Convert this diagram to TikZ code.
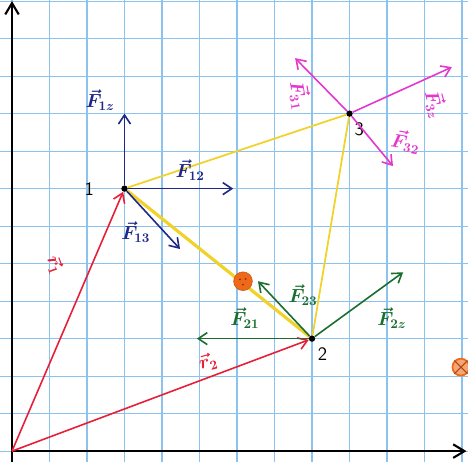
\documentclass[tikz,border=0pt]{standalone}
\usetikzlibrary{arrows.meta,calc}

\definecolor{gridblue}{RGB}{140,195,238}
\definecolor{rvec}{RGB}{232,30,55}
\definecolor{fblue}{RGB}{30,40,135}
\definecolor{fgreen}{RGB}{25,110,45}
\definecolor{fpink}{RGB}{228,55,205}
\definecolor{tri}{RGB}{240,210,40}
\definecolor{blob}{RGB}{240,105,25}

\begin{document}
\begin{tikzpicture}[
    vec/.style={line width=1.2pt, -{Straight Barb[length=2.4mm,width=3.2mm]}},
    axis/.style={line width=1.6pt, -{Straight Barb[length=3mm,width=3.6mm]}},
    charge/.style={circle, fill, inner sep=1.7pt},
    flab/.style={font=\Large\boldmath, inner sep=1pt},
    num/.style={font=\Large\sffamily},
    spot/.style={circle, fill=blob, draw=blob!80!black, minimum size=5mm, inner sep=0pt},
  ]
  \useasboundingbox (-0.32,-0.293) rectangle (12.16,12.03);
  \fill[white] (-0.32,-0.293) rectangle (12.16,12.03);

  % squared paper
  \draw[gridblue, line width=0.8pt] (-0.32,-0.293) grid (12.16,12.03);

  % axes
  \coordinate (O) at (0,0);
  \coordinate (ybot) at (0,-0.3);
  \coordinate (ytip) at (0,12.0);
  \coordinate (xtip) at (12.12,0);
  \draw[axis] (ybot) -- (ytip);
  \draw[axis] (O) -- (xtip);

  % the three charges
  \node[charge, label={[num, label distance=6mm]180:1}] (P1) at (3,7) {};
  \node[charge, label={[num, label distance=1pt]-75:2}] (P2) at (8,3) {};
  \node[charge, label={[num, label distance=1pt]-85:3}] (P3) at (9,9) {};

  % triangle
  \draw[tri, line width=1.3pt] (P1) -- (P3) -- (P2);
  \draw[tri, line width=2.4pt] (P1) -- (P2);

  % spots
  \node[spot] (S1) at (6.16,4.53) {};
  \node[spot, minimum size=4.5mm, fill=blob!60, line width=1.3pt, draw=blob] (S2) at (11.97,2.24) {};
  \draw[blob!70!black, line width=0.8pt] (S2.north west) -- (S2.south east) (S2.north east) -- (S2.south west);
  \fill[blob!50!black] ($(S1)+(-0.08,0.05)$) circle (0.8pt) ($(S1)+(0.07,0.06)$) circle (0.8pt) ($(S1)+(0,-0.09)$) circle (0.8pt);

  % position vectors
  \draw[vec, rvec] (O) -- (P1);
  \draw[vec, rvec] (O) -- (P2);
  \node[flab, rvec, rotate=-70] (r1) at (1.15,4.96) {$\vec{r}_1$};
  \node[flab, rvec, rotate=15] (r2) at (5.23,2.37) {$\vec{r}_2$};

  % forces on 1
  \coordinate (F1z) at (3,9);
  \coordinate (F12) at (5.9,7);
  \coordinate (F13) at (4.48,5.39);
  \foreach \e in {F1z,F12,F13}
    \draw[vec, fblue] (P1) -- (\e);
  \node[flab, fblue] (l1z) at (2.35,9.36) {$\vec{F}_{1z}$};
  \node[flab, fblue] (l12) at (4.75,7.49) {$\vec{F}_{12}$};
  \node[flab, fblue] (l13) at (3.3,5.84) {$\vec{F}_{13}$};

  % forces on 2
  \coordinate (F21) at (4.93,3);
  \coordinate (F23) at (6.56,4.53);
  \coordinate (F2z) at (10.43,4.77);
  \foreach \e in {F21,F23,F2z}
    \draw[vec, fgreen] (P2) -- (\e);
  \node[flab, fgreen] (l21) at (6.21,3.55) {$\vec{F}_{21}$};
  \node[flab, fgreen] (l23) at (7.76,4.16) {$\vec{F}_{23}$};
  \node[flab, fgreen] (l2z) at (10.13,3.55) {$\vec{F}_{2z}$};

  % forces on 3
  \coordinate (F31) at (7.55,10.48);
  \coordinate (F3z) at (11.73,10.24);
  \coordinate (F32) at (10.16,7.6);
  \foreach \e in {F31,F3z,F32}
    \draw[vec, fpink] (P3) -- (\e);
  \node[flab, fpink, rotate=-80] (l31) at (7.68,9.49) {$\vec{F}_{31}$};
  \node[flab, fpink, rotate=-75] (l3z) at (11.3,9.25) {$\vec{F}_{3z}$};
  \node[flab, fpink, rotate=-10] (l32) at (10.5,8.25) {$\vec{F}_{32}$};
\end{tikzpicture}
\end{document}
